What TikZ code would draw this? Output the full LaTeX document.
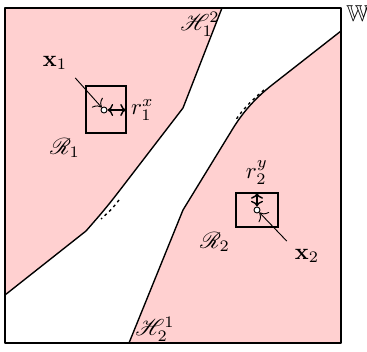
\documentclass[tikz,border=0pt]{standalone}
\usepackage{amsmath,amssymb}
\usepackage{mathrsfs}
\usetikzlibrary{arrows.meta}

\definecolor{regionpink}{RGB}{255,208,208}

\tikzset{
    grens/.style={semithick, line join=round},
    stip/.style={semithick, dash pattern=on 1.2pt off 1.5pt},
    pijl/.style={thin, -{To[length=3pt]}},
    straal/.style={semithick, {To[length=2.5pt]}-{To[length=2.5pt]}},
    punt/.style={circle, draw, thin, fill=white, inner sep=0pt, minimum size=2.6pt},
}

\begin{document}
\begin{tikzpicture}[x=0.0153cm, y=0.0153cm]
    \useasboundingbox (0,0) rectangle (367,352);

    % Region R1 (upper left)
    \fill[regionpink] (5,344) -- (222,344) -- (183,244) -- (120,162)
        .. controls (107,145) and (100,137) .. (86,121) -- (5,57) -- cycle;
    \draw[grens] (222,344) -- (183,244) -- (120,162)
        .. controls (107,145) and (100,137) .. (86,121) -- (5,57);

    % Region R2 (lower right)
    \fill[regionpink] (341,321) -- (272,267) .. controls (258,256) and (244,242) .. (232,222)
        -- (183,142) -- (129,9) -- (341,9) -- cycle;
    \draw[grens] (341,321) -- (272,267) .. controls (258,256) and (244,242) .. (232,222)
        -- (183,142) -- (129,9);

    % Dashed true boundaries next to the polygons
    \draw[stip] (264,262) .. controls (252,252) and (243,243) .. (235,231);
    \draw[stip] (119,152) .. controls (112,143) .. (101,133);

    % The workspace
    \draw[grens] (5,9) rectangle (341,344);
    \node[anchor=north west, inner sep=0pt] (W) at (346,347) {$\mathbb{W}$};

    % Box around x1
    \draw[semithick] (86,219) rectangle (126,266);
    \node[punt] (c1) at (104,242) {};
    \coordinate (e1) at (126,242);
    \draw[straal] (c1) -- (e1);
    \node[anchor=west, inner sep=2pt] (r1) at (e1) {$r_1^x$};
    \node (x1) at (55,289) {$\mathbf{x}_1$};
    \draw[pijl] (x1.south east) -- (c1);

    % Box around x2
    \draw[semithick] (236,125) rectangle (278,159);
    \node[punt] (c2) at (257,142) {};
    \coordinate (e2) at (257,159);
    \draw[straal] (c2) -- (e2);
    \node[anchor=south] (r2) at (e2) {$r_2^y$};
    \node (x2) at (307,96) {$\mathbf{x}_2$};
    \draw[pijl] (x2.north west) -- (c2);

    % Region and boundary labels
    \node (R1) at (65,204) {$\mathscr{R}_1$};
    \node (R2) at (215,110) {$\mathscr{R}_2$};
    \node (H12) at (200,328) {$\mathscr{H}_1^2$};
    \node (H21) at (155,23) {$\mathscr{H}_2^1$};
\end{tikzpicture}
\end{document}
